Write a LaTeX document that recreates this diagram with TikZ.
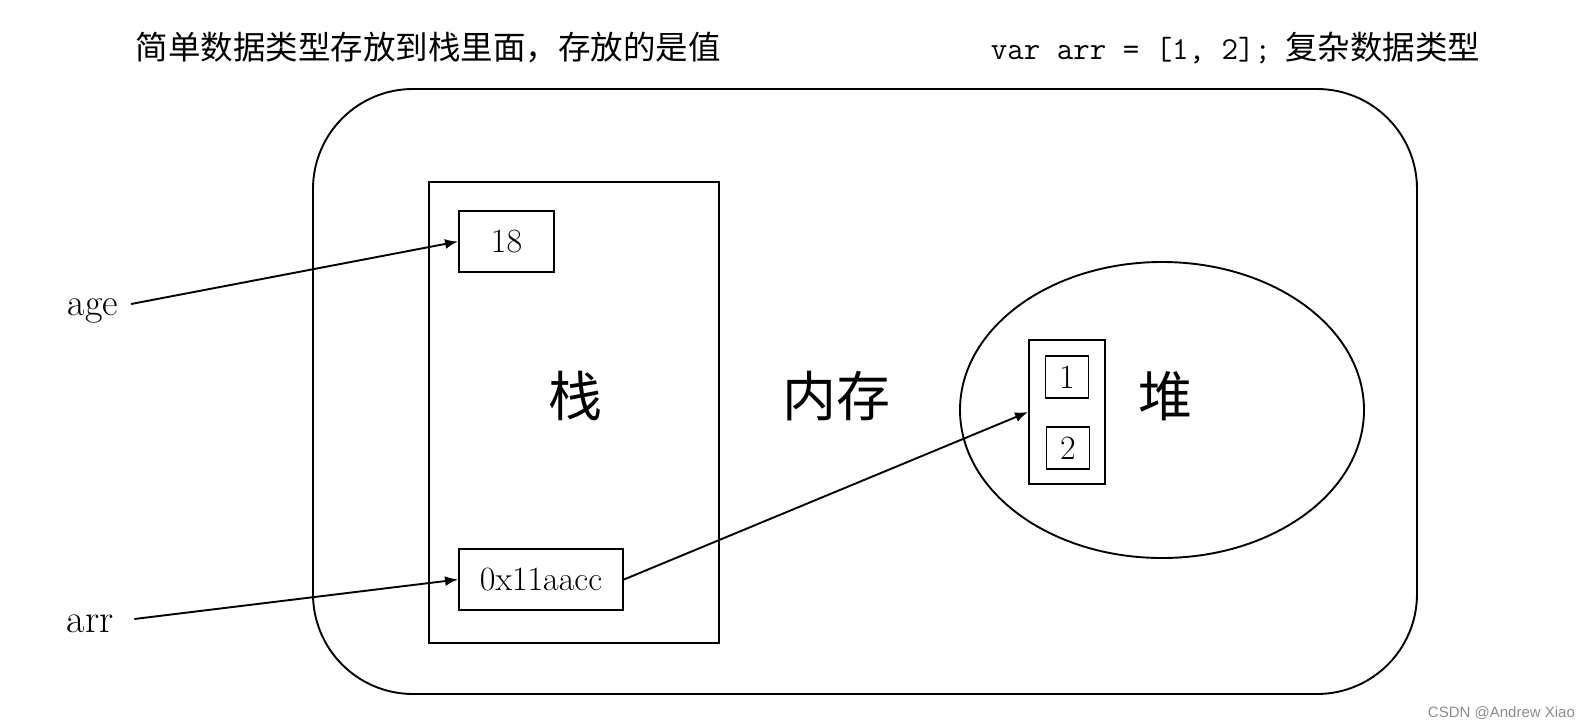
\documentclass[tikz,border=0pt]{standalone}
\usepackage{fontspec}
\newfontfamily\cjk{Noto Sans CJK SC}
\newfontfamily\wmfont{Liberation Sans}
\usetikzlibrary{positioning, arrows.meta, shapes.geometric}

\begin{document}
\begin{tikzpicture}[
  x=1pt, y=-1pt,
  line width=1.9pt,
  >={Latex[length=13pt,width=10pt]},
  cell/.style={draw, inner sep=0pt, font=\fontsize{34}{40}\selectfont},
  big/.style={font=\cjk\fontsize{54}{60}\selectfont},
  note/.style={anchor=west, inner sep=0pt},
  var/.style={font=\fontsize{38}{44}\selectfont, inner xsep=12pt},
  ptr/.style={->}
]
\useasboundingbox (0,0) rectangle (1593,728);

% memory, stack, heap
\node[draw, rounded corners=100pt, minimum width=1104pt, minimum height=605pt] (mem) at (865,391.5) {};
\node[draw, minimum width=290pt, minimum height=461pt] (stack) at (574,412.5) {};
\node[draw, ellipse, inner sep=0pt, minimum width=404pt, minimum height=296pt] (heap) at (1162,410) {};

\node[big] (stacklbl) at (575,396) {栈};
\node[big] (memlbl) at (836,396) {内存};
\node[big] (heaplbl) at (1165,396) {堆};

% values in the stack
\node[cell, minimum width=95pt, minimum height=61pt] (val) at (506.5,241.5) {18};
\node[cell, minimum width=164pt, minimum height=61pt] (addr) at (541,579.5) {0x11aacc};

% array in the heap
\node[draw, minimum width=76pt, minimum height=144pt] (block) at (1067,412) {};
\node[cell, minimum width=43pt, minimum height=42pt] (one) at (1067,377) {1};
\node[cell, minimum width=43pt, minimum height=42pt] (two) at (1068,448) {2};

% variables
\node[var] (age) at (93,311) {age};
\node[var, font=\fontsize{40}{46}\selectfont, inner xsep=20pt] (arr) at (90,624) {arr};

\draw[ptr] ([yshift=7pt]age.east) -- (val.west);
\draw[ptr] ([yshift=5pt]arr.east) -- (addr.west);
\draw[ptr] (addr.east) -- (block.west);

% notes
\node[note, font=\cjk\fontsize{32.5}{38}\selectfont] (simple) at (135,48) {简单数据类型存放到栈里面，存放的是值};
\node[note] (complex) at (990,48) {{\ttfamily\fontsize{32}{38}\selectfont var arr = [1, 2];}\hspace{14pt}{\cjk\fontsize{32.5}{38}\selectfont 复杂数据类型}};

\node[note, font=\wmfont\fontsize{15}{18}\selectfont, text=black!45] (mark) at (1427,713) {CSDN @Andrew Xiao};
\end{tikzpicture}
\end{document}
